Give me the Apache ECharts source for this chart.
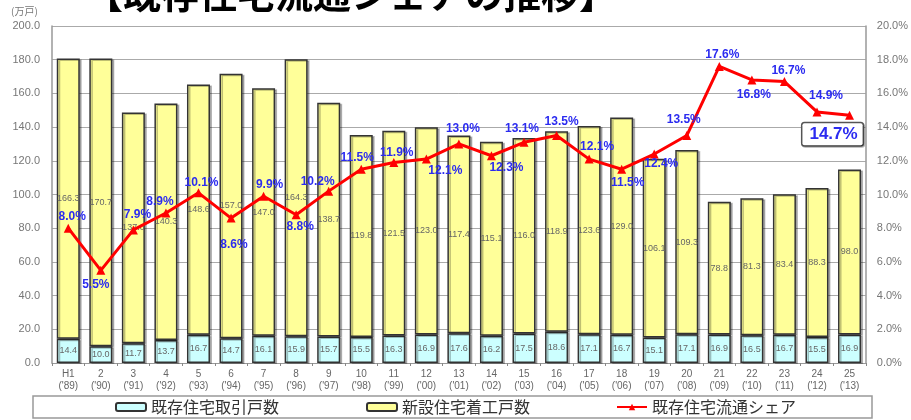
<!DOCTYPE html>
<html>
<head>
<meta charset="utf-8">
<script src="https://cdn.jsdelivr.net/npm/echarts@6/dist/echarts.min.js"></script>
<style>
  html, body { margin: 0; padding: 0; background: #fff; }
</style>
</head>
<body>
<div id="main" style="width: 911px;height:420px;"></div>
<script>
  // data (万戸 / %)
  var years = ['H1', '2', '3', '4', '5', '6', '7', '8', '9', '10', '11', '12', '13',
               '14', '15', '16', '17', '18', '19', '20', '21', '22', '23', '24', '25'];
  var westernYears = ['89', '90', '91', '92', '93', '94', '95', '96', '97', '98', '99', '00', '01',
                      '02', '03', '04', '05', '06', '07', '08', '09', '10', '11', '12', '13'];
  var existingDeals = [14.4, 10.0, 11.7, 13.7, 16.7, 14.7, 16.1, 15.9, 15.7, 15.5, 16.3, 16.9, 17.6,
                       16.2, 17.5, 18.6, 17.1, 16.7, 15.1, 17.1, 16.9, 16.5, 16.7, 15.5, 16.9];
  var newStarts = [166.3, 170.7, 137.0, 140.3, 148.6, 157.0, 147.0, 164.3, 138.7, 119.8, 121.5, 123.0, 117.4,
                   115.1, 116.0, 118.9, 123.6, 129.0, 106.1, 109.3, 78.8, 81.3, 83.4, 88.3, 98.0];
  var share = [8.0, 5.5, 7.9, 8.9, 10.1, 8.6, 9.9, 8.8, 10.2, 11.5, 11.9, 12.1, 13.0,
               12.3, 13.1, 13.5, 12.1, 11.5, 12.4, 13.5, 17.6, 16.8, 16.7, 14.9, 14.7];

  // where each share label sits relative to its marker (style only)
  var shareLabelOffsets = [[4, -12], [-5, 14], [4, -15], [-6, -11], [3, -10], [3, 27], [6, -11], [4, 12],
                           [-11, -9], [-4, -12], [3, -10], [19, 12], [4, -15], [15, 12], [-2, -14], [5, -14],
                           [8, -12], [6, 13], [7, 10], [-3, -16], [3, -12], [2, 15], [4, -11], [9, -16], [-17, 19]];

  var nameExisting = '既存住宅取引戸数';
  var nameNew = '新設住宅着工戸数';
  var nameShare = '既存住宅流通シェア';

  var jpFont = '"Noto Sans CJK JP", sans-serif';
  var numFont = '"Liberation Sans", Arial, sans-serif';

  var myChart = echarts.init(document.getElementById('main'));

  var shareData = share.map(function (v, i) {
    var item = { value: v, label: { offset: shareLabelOffsets[i] } };
    if (i === share.length - 1) {
      item.label = {
        offset: shareLabelOffsets[i],
        fontSize: 17,
        borderColor: '#555',
        borderWidth: 1.5,
        borderRadius: 2,
        backgroundColor: '#fff',
        padding: [3, 5, 2, 7],
        shadowColor: 'rgba(0,0,0,0.3)',
        shadowOffsetX: 1,
        shadowOffsetY: 1
      };
    }
    return item;
  });

  var legendText = { fontSize: 16, color: '#333', fontFamily: jpFont };

  var option = {
    animation: false,
    backgroundColor: '#fff',
    title: {
      text: '【既存住宅流通シェアの推移】',
      left: 80,
      top: -30,
      textStyle: { fontSize: 38, fontWeight: 'bold', color: '#000', fontFamily: jpFont }
    },
    graphic: [
      {
        type: 'text', left: 11, top: 6,
        style: { text: '(万戸)', fontSize: 10, fill: '#777', fontFamily: jpFont }
      },
      {
        type: 'rect', z: -1,
        shape: { x: 33, y: 396, width: 839, height: 22 },
        style: { fill: '#fff', stroke: '#999', lineWidth: 1.5 }
      }
    ],
    legend: [
      { data: [nameExisting], left: 110, top: 394, itemWidth: 30, itemHeight: 8, itemGap: 0, textStyle: legendText },
      { data: [nameNew], left: 361, top: 394, itemWidth: 30, itemHeight: 8, itemGap: 0, textStyle: legendText },
      { data: [nameShare], left: 611, top: 394, itemWidth: 30, itemHeight: 8, itemGap: 0, textStyle: legendText }
    ],
    grid: { left: 52, right: 45, top: 26, bottom: 57 },
    xAxis: {
      type: 'category',
      data: years,
      axisLine: { lineStyle: { color: '#999', width: 1 } },
      axisTick: { show: true, length: 3, lineStyle: { color: '#888' } },
      axisLabel: {
        interval: 0,
        margin: 5,
        fontSize: 10,
        lineHeight: 12,
        color: '#666',
        fontFamily: numFont,
        formatter: function (v, i) {
          return v + "\n('" + westernYears[i] + ")";
        }
      }
    },
    yAxis: [
      {
        type: 'value',
        min: 0, max: 200, interval: 20,
        axisLine: { show: true, lineStyle: { color: '#999', width: 1.5 } },
        axisTick: { show: false },
        axisLabel: {
          margin: 12, fontSize: 11, color: '#777', fontFamily: numFont,
          formatter: function (v) { return v.toFixed(1); }
        },
        splitLine: { lineStyle: { color: '#aaa', width: 1 } }
      },
      {
        type: 'value',
        min: 0, max: 20, interval: 2,
        axisLine: { show: true, lineStyle: { color: '#999', width: 1.5 } },
        axisTick: { show: false },
        axisLabel: {
          margin: 11, fontSize: 11, color: '#777', fontFamily: numFont,
          formatter: function (v) { return v.toFixed(1) + '%'; }
        },
        splitLine: { show: false }
      }
    ],
    series: [
      {
        name: nameExisting,
        type: 'bar',
        stack: 'total',
        barWidth: 23,
        data: existingDeals,
        itemStyle: {
          color: '#CCFFFF', borderColor: '#333', borderWidth: 1.5,
          shadowColor: 'rgba(0,0,0,0.25)', shadowOffsetX: 2, shadowOffsetY: 1
        },
        label: {
          show: true, position: 'inside', fontSize: 9, color: '#666', fontFamily: numFont,
          formatter: function (p) { return p.value.toFixed(1); }
        }
      },
      {
        name: nameNew,
        type: 'bar',
        stack: 'total',
        barWidth: 23,
        data: newStarts,
        itemStyle: {
          color: '#FFFF99', borderColor: '#333', borderWidth: 1.5,
          shadowColor: 'rgba(0,0,0,0.25)', shadowOffsetX: 2, shadowOffsetY: 1
        },
        label: {
          show: true, position: 'inside', fontSize: 9, color: '#666', fontFamily: numFont,
          formatter: function (p) { return p.value.toFixed(1); }
        }
      },
      {
        name: nameShare,
        type: 'line',
        yAxisIndex: 1,
        data: shareData,
        symbol: 'triangle',
        symbolSize: 9,
        lineStyle: { color: '#FF0000', width: 3 },
        itemStyle: { color: '#FF0000' },
        z: 5,
        label: {
          show: true,
          position: 'inside',
          color: '#2B2BF0',
          fontWeight: 'bold',
          fontSize: 12,
          fontFamily: numFont,
          formatter: function (p) { return p.value.toFixed(1) + '%'; }
        }
      }
    ]
  };

  myChart.setOption(option);
</script>
</body>
</html>
